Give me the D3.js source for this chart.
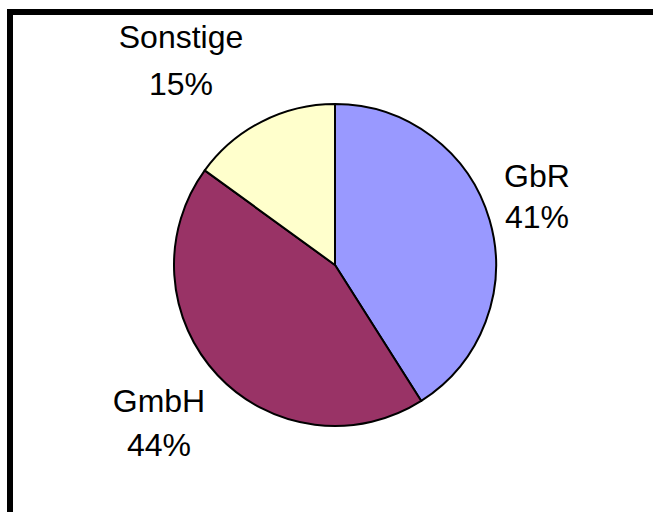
<!DOCTYPE html>
<html>
<head>
<meta charset="utf-8">
<script src="https://cdn.jsdelivr.net/npm/d3@7"></script>
<style>
  html, body { margin: 0; padding: 0; background: #fff; }
  svg { display: block; }
  text { font-family: "Liberation Sans", Arial, sans-serif; fill: #000; }
</style>
</head>
<body>
<svg id="chart" width="653" height="512"></svg>
<script>
// Rechtsformen – share of each legal form
const categories = ["GbR", "GmbH", "Sonstige"];
const shares = [41, 44, 15];
const colors = ["#9999FF", "#993366", "#FFFFCC"];

const width = 653, height = 512;
const cx = 335, cy = 265, radius = 161;

// Label placement: centre x and baseline of the first line for each slice
const labelLayout = {
  "GbR":      { x: 537, y: 187, lineGap: 41 },
  "GmbH":     { x: 159, y: 412, lineGap: 44 },
  "Sonstige": { x: 181, y: 48,  lineGap: 47 }
};

const svg = d3.select("#chart");

// Frame (only top and left edges fall inside the view)
svg.append("rect")
  .attr("x", 10).attr("y", 12)
  .attr("width", width + 20).attr("height", height + 20)
  .attr("fill", "#fff")
  .attr("stroke", "#000")
  .attr("stroke-width", 6);

const data = categories.map((c, i) => ({ name: c, value: shares[i], color: colors[i] }));

const pie = d3.pie().value(d => d.value).sort(null);
const arc = d3.arc().innerRadius(0).outerRadius(radius);

const g = svg.append("g").attr("transform", `translate(${cx},${cy})`);

g.selectAll("path")
  .data(pie(data))
  .join("path")
  .attr("d", arc)
  .attr("fill", d => d.data.color)
  .attr("stroke", "#000")
  .attr("stroke-width", 2)
  .attr("stroke-linejoin", "round");

const labels = svg.append("g").selectAll("text")
  .data(data)
  .join("text")
  .attr("text-anchor", "middle")
  .attr("font-size", 32);

labels.append("tspan")
  .attr("x", d => labelLayout[d.name].x)
  .attr("y", d => labelLayout[d.name].y)
  .text(d => d.name);

labels.append("tspan")
  .attr("x", d => labelLayout[d.name].x)
  .attr("y", d => labelLayout[d.name].y + labelLayout[d.name].lineGap)
  .text(d => d.value + "%");
</script>
</body>
</html>
